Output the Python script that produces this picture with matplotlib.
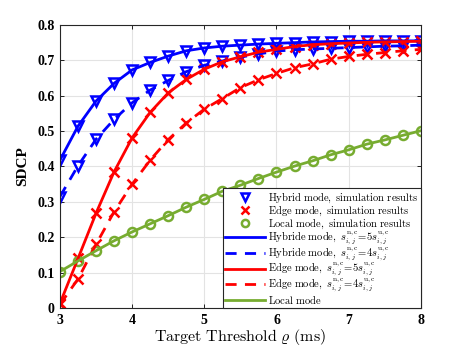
import numpy as np
import matplotlib
matplotlib.use("Agg")
import matplotlib.pyplot as plt

# ── Data ──────────────────────────────────────────────────────────────────────

rho = [3.0, 3.25, 3.5, 3.75, 4.0, 4.25, 4.5, 4.75, 5.0, 5.25, 5.5,
       5.75, 6.0, 6.25, 6.5, 6.75, 7.0, 7.25, 7.5, 7.75, 8.0]

hybrid_5 = [0.418, 0.514, 0.585, 0.635, 0.673, 0.694, 0.712, 0.727, 0.735, 0.740, 0.743,
            0.746, 0.748, 0.750, 0.752, 0.753, 0.754, 0.754, 0.755, 0.755, 0.755]
hybrid_4 = [0.315, 0.402, 0.477, 0.533, 0.580, 0.616, 0.643, 0.668, 0.686, 0.698, 0.709,
            0.718, 0.726, 0.730, 0.732, 0.734, 0.736, 0.738, 0.740, 0.741, 0.743]
edge_5   = [0.013, 0.140, 0.268, 0.385, 0.481, 0.553, 0.608, 0.646, 0.675, 0.696, 0.710,
            0.723, 0.731, 0.739, 0.744, 0.747, 0.749, 0.751, 0.752, 0.753, 0.754]
edge_4   = [0.010, 0.082, 0.180, 0.272, 0.350, 0.418, 0.476, 0.523, 0.562, 0.592, 0.623,
            0.645, 0.663, 0.679, 0.690, 0.703, 0.711, 0.717, 0.722, 0.727, 0.731]
local    = [0.103, 0.133, 0.162, 0.190, 0.215, 0.238, 0.261, 0.285, 0.307, 0.330, 0.347,
            0.366, 0.384, 0.401, 0.416, 0.433, 0.447, 0.463, 0.475, 0.488, 0.501]

x_ticks = [3, 4, 5, 6, 7, 8]
y_ticks = [0, 0.1, 0.2, 0.3, 0.4, 0.5, 0.6, 0.7, 0.8]
y_tick_labels = ["0", "0.1", "0.2", "0.3", "0.4", "0.5", "0.6", "0.7", "0.8"]

C_BLUE  = "#0000ff"
C_RED   = "#ff0000"
C_GREEN = "#77ac30"

plt.rcParams["mathtext.fontset"] = "cm"

# ── Plot ──────────────────────────────────────────────────────────────────────

fig = plt.figure(figsize=(4.65, 3.49), dpi=100)
ax = fig.add_axes([0.129, 0.1175, 0.776, 0.811])

lw = 2.0
mk = dict(linestyle="none", markersize=6.5, markeredgewidth=1.8)

# simulation markers
h1, = ax.plot(rho, hybrid_5, marker="v", color=C_BLUE, mfc="none", **mk,
              label=r"$\mathrm{Hybrid\ mode,\ simulation\ results}$")
ax.plot(rho, hybrid_4, marker="v", color=C_BLUE, mfc="none", **mk)
h2, = ax.plot(rho, edge_5, marker="x", color=C_RED, **mk,
              label=r"$\mathrm{Edge\ mode,\ simulation\ results}$")
ax.plot(rho, edge_4, marker="x", color=C_RED, **mk)
h3, = ax.plot(rho, local, marker="o", color=C_GREEN, mfc="none", **mk,
              label=r"$\mathrm{Local\ mode,\ simulation\ results}$")

# analytical curves
h4, = ax.plot(rho, hybrid_5, "-", color=C_BLUE, lw=lw,
              label=r"$\mathrm{Hybride\ mode,}\ s_{i,j}^{\mathrm{n,c}}\!=\!5s_{i,j}^{\mathrm{u,c}}$")
h5, = ax.plot(rho, hybrid_4, "--", color=C_BLUE, lw=lw, dashes=(4, 3),
              label=r"$\mathrm{Hybride\ mode,}\ s_{i,j}^{\mathrm{n,c}}\!=\!4s_{i,j}^{\mathrm{u,c}}$")
h6, = ax.plot(rho, edge_5, "-", color=C_RED, lw=lw,
              label=r"$\mathrm{Edge\ mode,}\ s_{i,j}^{\mathrm{n,c}}\!=\!5s_{i,j}^{\mathrm{u,c}}$")
h7, = ax.plot(rho, edge_4, "--", color=C_RED, lw=lw, dashes=(4, 3),
              label=r"$\mathrm{Edge\ mode,}\ s_{i,j}^{\mathrm{n,c}}\!=\!4s_{i,j}^{\mathrm{u,c}}$")
h8, = ax.plot(rho, local, "-", color=C_GREEN, lw=lw,
              label=r"$\mathrm{Local\ mode}$")

ax.set_xlim(3, 8)
ax.set_ylim(0, 0.8)
ax.set_xticks(x_ticks)
ax.set_yticks(y_ticks)
ax.set_yticklabels(y_tick_labels)
for lab in ax.get_xticklabels() + ax.get_yticklabels():
    lab.set_fontfamily("Liberation Serif")
    lab.set_fontweight("bold")
    lab.set_fontsize(10)

ax.tick_params(direction="in", top=True, right=True, length=3, width=0.6, pad=4)
ax.grid(True, color="#e3e3e3", linewidth=0.8)
ax.set_axisbelow(True)
for s in ax.spines.values():
    s.set_linewidth(0.8)
    s.set_color("#262626")

ax.set_xlabel(r"$\mathrm{Target\ Threshold}\ \varrho\ \mathrm{(ms)}$", fontsize=11.5, labelpad=0)
ax.set_ylabel("SDCP", fontfamily="Liberation Serif", fontweight="bold", fontsize=11, labelpad=6)

leg = ax.legend(handles=[h1, h2, h3, h4, h5, h6, h7, h8], loc="lower right",
                fontsize=7.6, frameon=True, fancybox=False, edgecolor="#262626",
                borderpad=0.2, labelspacing=-0.12, handlelength=3.8, handletextpad=0.3,
                borderaxespad=0.0, markerscale=0.8)
leg.get_frame().set_linewidth(0.8)
leg.get_frame().set_alpha(1.0)

fig.savefig("out.png", dpi=100, facecolor="white")
